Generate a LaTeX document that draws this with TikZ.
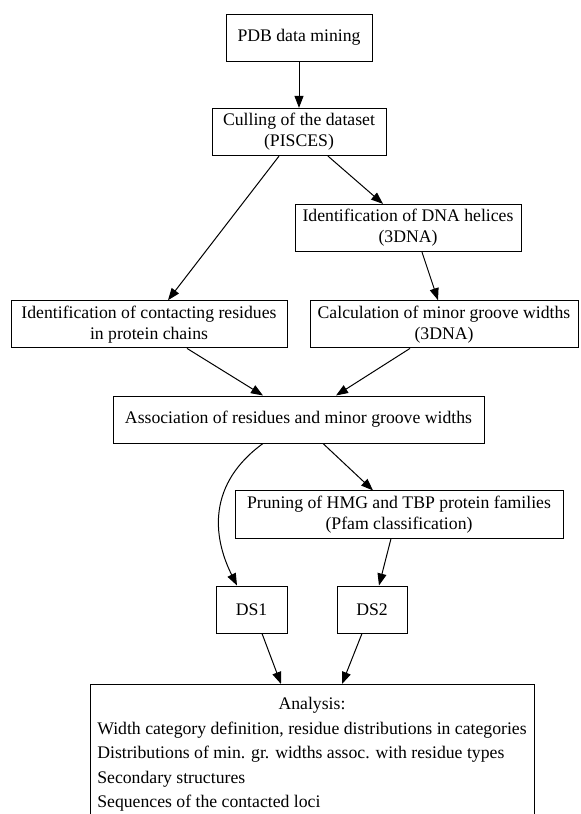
\documentclass[tikz,border=0pt]{standalone}
\usepackage{fontspec}
\setmainfont{Liberation Serif}
\usepackage{tikz}
\usetikzlibrary{arrows.meta, positioning}
\tikzset{box/.style={draw, line width=1pt, rectangle, align=center, inner xsep=4pt, inner ysep=5pt, minimum height=47pt}}

\begin{document}
\begin{tikzpicture}[x=1pt, y=-1pt, line width=1pt, >={Triangle[length=12pt, width=9pt]}, font=\fontsize{17.7}{21}\selectfont]
        \useasboundingbox (0,0) rectangle (581,814);
        \clip (0,0) rectangle (581,814);
        \node (pdb) [box, minimum width=146pt] at (299,37.5) {PDB data mining};
        \node (cull) [box, minimum width=174pt] at (299,132) {Culling of the dataset\\(PISCES)};
        \node (helix) [box, minimum width=226pt] at (408,228) {Identification of DNA helices\\(3DNA)};
        \node (contact) [box, minimum width=276pt] at (149,324.3) {Identification of contacting residues\\in protein chains};
        \node (calc) [box, minimum width=268pt] at (444,324.3) {Calculation of minor groove widths\\(3DNA)};
        \node (assoc) [box, minimum width=371pt] at (298.5,419.5) {Association of residues and minor groove widths};
        \node (prune) [box, minimum width=328pt] at (399,514.5) {Pruning of HMG and TBP protein families\\(Pfam classification)};
        \node (ds1) [box, minimum width=71pt] at (251.5,609.5) {DS1};
        \node (ds2) [box, minimum width=70pt] at (372,609.5) {DS2};
        \node (ana) [box, anchor=north, minimum width=444pt, inner ysep=8pt] at (312,684) {\def\arraystretch{1.167}\begin{tabular}{@{}l@{}}
          \multicolumn{1}{c}{Analysis:}\\
          Width category definition, residue distributions in categories\\
          Distributions of min. gr. widths assoc. with residue types\\
          Secondary structures\\
          Sequences of the contacted loci\\
        \end{tabular}};
        \draw[->] (pdb) -- (cull);
        \draw[->] ([xshift=-20pt]cull.south) -- ([xshift=19pt]contact.north);
        \draw[->] ([xshift=29pt]cull.south) -- ([xshift=-25pt]helix.north);
        \draw[->] ([xshift=14pt]helix.south) -- ([xshift=-6pt]calc.north);
        \draw[->] ([xshift=38pt]contact.south) -- ([xshift=-35.5pt]assoc.north);
        \draw[->] ([xshift=-34pt]calc.south) -- ([xshift=37.5pt]assoc.north);
        \draw[->] ([xshift=-35.5pt]assoc.south) .. controls +(-55,40) and +(-25,-50) .. ([xshift=-14.5pt]ds1.north);
        \draw[->] ([xshift=24.5pt]assoc.south) -- ([xshift=-26pt]prune.north);
        \draw[->] ([xshift=-8pt]prune.south) -- ([xshift=7pt]ds2.north);
        \draw[->] ([xshift=10.5pt]ds1.south) -- ([xshift=-31pt]ana.north);
        \draw[->] ([xshift=-10pt]ds2.south) -- ([xshift=30pt]ana.north);
      \end{tikzpicture}
\end{document}
